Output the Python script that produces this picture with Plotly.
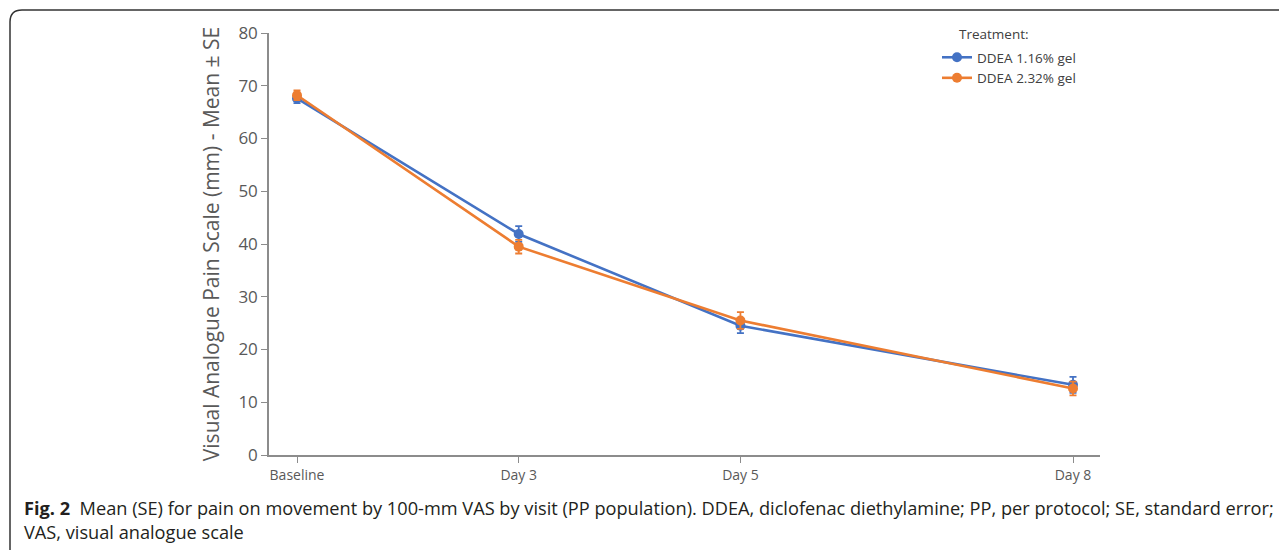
import plotly.graph_objects as go

visits = ["Baseline", "Day 3", "Day 5", "Day 8"]
visit_day = [1, 3, 5, 8]
series_names = ["DDEA 1.16% gel", "DDEA 2.32% gel"]
mean_116 = [67.6, 41.9, 24.5, 13.3]
se_116 = [0.9, 1.5, 1.4, 1.5]
mean_232 = [68.2, 39.5, 25.5, 12.6]
se_232 = [0.9, 1.3, 1.6, 1.3]
colors = ["#4472C4", "#ED7D31"]
y_ticks = [0, 10, 20, 30, 40, 50, 60, 70, 80]

# page has an 8px body margin; design in reference pixels and shift by OFF
OFF = 8
W, H = 1287 - OFF, 550 - OFF


def px(x):
    return (x - OFF) / W


def py(y):
    return 1 - (y - OFF) / H


fig = go.Figure()
for name, m, se, c in zip(series_names, [mean_116, mean_232], [se_116, se_232], colors):
    fig.add_trace(go.Scatter(
        x=visit_day, y=m, name=name, mode="lines+markers",
        line=dict(color=c, width=2.6),
        marker=dict(color=c, size=10),
        error_y=dict(type="data", array=se, color=c, thickness=1.8, width=3.5),
    ))

font = "Open Sans, Noto Sans, sans-serif"
fig.update_layout(
    width=W, height=H, autosize=False,
    margin=dict(l=0, r=0, t=0, b=0, pad=0, autoexpand=False),
    paper_bgcolor="white", plot_bgcolor="white",
    font=dict(family=font, color="#595959"),
    showlegend=True,
    legend=dict(
        x=px(937), y=py(42), xanchor="left", yanchor="top",
        font=dict(size=13.5, color="#404040"), bgcolor="rgba(0,0,0,0)",
        tracegroupgap=0, itemwidth=30,
    ),
    xaxis=dict(
        domain=[px(269), px(1100)],
        range=[1 - 28 / 110.86, 8 + 27 / 110.86],
        tickvals=visit_day, ticktext=visits,
        showgrid=False, zeroline=False,
        showline=True, linecolor="#8c8c8c", linewidth=1.5,
        ticks="outside", ticklen=6, tickcolor="#8c8c8c",
        tickfont=dict(size=14, color="#595959"),
        automargin=False,
    ),
    yaxis=dict(
        domain=[py(455), py(33)],
        range=[0, 80], tickvals=y_ticks,
        showgrid=False, zeroline=False,
        showline=True, linecolor="#8c8c8c", linewidth=1.5,
        ticks="outside", ticklen=6, tickcolor="#8c8c8c",
        tickfont=dict(size=17, color="#595959"),
        title=dict(text="Visual Analogue Pain Scale (mm) - Mean ± SE",
                   font=dict(size=21, color="#595959"), standoff=13),
        automargin=False,
    ),
)

# legend heading
fig.add_annotation(
    xref="paper", yref="paper", x=px(957), y=py(34),
    xanchor="left", yanchor="middle", showarrow=False,
    text="Treatment:", font=dict(family=font, size=13.5, color="#404040"),
)

# rounded frame around figure
r = 12
x0, y0 = 10, 10
x1, y1 = 1300, 570
path = (f"M {px(x0)},{py(y1)} L {px(x0)},{py(y0 + r)} "
        f"Q {px(x0)},{py(y0)} {px(x0 + r)},{py(y0)} L {px(x1)},{py(y0)}")
fig.add_shape(type="path", xref="paper", yref="paper", path=path,
              line=dict(color="#333333", width=1.5))

fig.add_annotation(
    xref="paper", yref="paper", x=px(22), y=py(494),
    xanchor="left", yanchor="top", align="left", showarrow=False,
    text=("<b>Fig. 2</b>  Mean (SE) for pain on movement by 100-mm VAS by visit (PP population). "
          "DDEA, diclofenac diethylamine; PP, per protocol; SE, standard error;<br>"
          "VAS, visual analogue scale"),
    font=dict(family=font, size=18.2, color="#231f20"),
)

fig.write_html("out.html")
